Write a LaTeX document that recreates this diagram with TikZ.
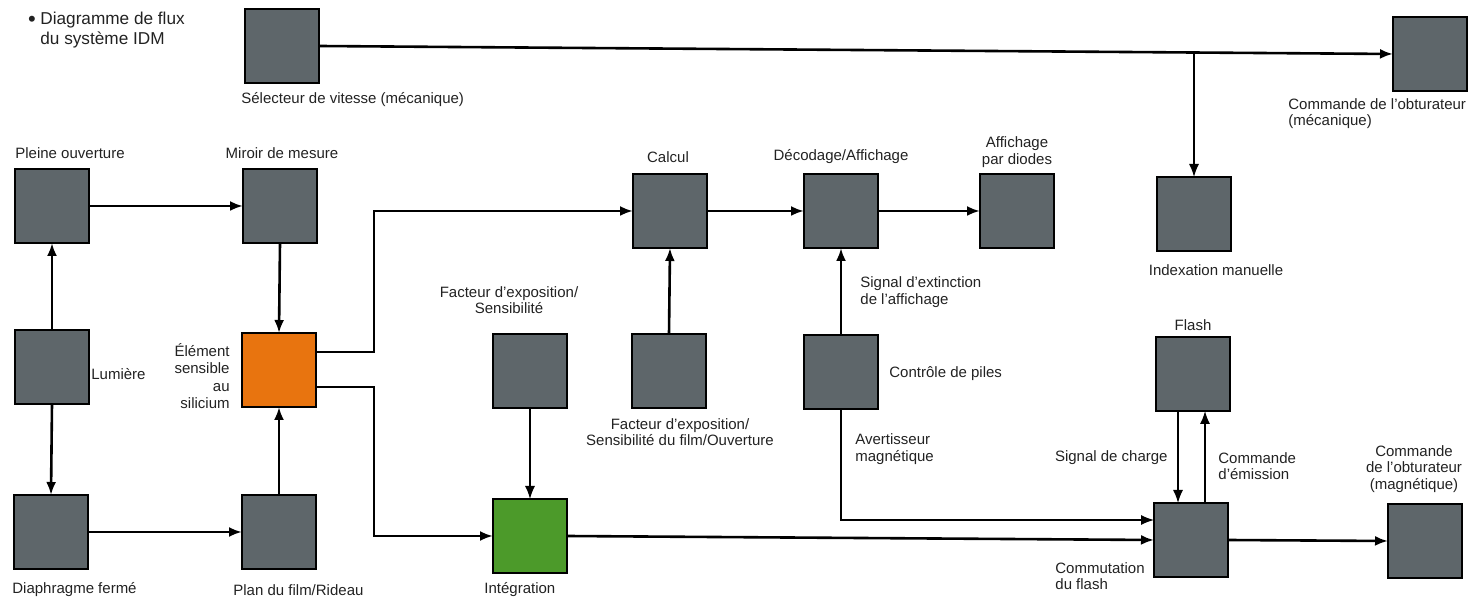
\documentclass[tikz,border=0pt]{standalone}
\usepackage{fontspec}
\setmainfont{Liberation Sans}
\usetikzlibrary{arrows.meta,calc}
\definecolor{boxgray}{HTML}{5E666A}
\definecolor{boxorange}{HTML}{E8740F}
\definecolor{boxgreen}{HTML}{4C9A2A}
\definecolor{txt}{HTML}{222222}
\begin{document}
\begin{tikzpicture}[x=0.5pt,y=-0.5pt,
  blk/.style={draw=black, line width=0.8pt, fill=boxgray, minimum size=37pt, inner sep=0pt, outer sep=0pt},
  lbl/.style={font=\fontsize{7.5}{8.2}\selectfont, text=txt, inner sep=0pt, align=center},
  conn/.style={line width=1.3pt, -{Latex[length=6.5pt,width=5pt]}},
  thinconn/.style={line width=0.7pt, -{Latex[length=6.5pt,width=5pt]}},
]
\useasboundingbox (0,0) rectangle (1472,597);

% boxes
\node[blk] (sel) at (282,46) {};
\node[blk] (cmdm) at (1430,54) {};
\node[blk] (pleine) at (52,206) {};
\node[blk] (miroir) at (280,206) {};
\node[blk] (calcul) at (670,211) {};
\node[blk] (decod) at (841,211) {};
\node[blk] (diodes) at (1017,211) {};
\node[blk] (index) at (1194,214) {};
\node[blk] (lum) at (52,367) {};
\node[blk,fill=boxorange] (elem) at (279,370) {};
\node[blk] (fexp) at (530,371) {};
\node[blk] (ffilm) at (669,371) {};
\node[blk] (piles) at (841,372) {};
\node[blk] (flash) at (1193,374) {};
\node[blk] (diaph) at (51,532) {};
\node[blk] (plan) at (279,532) {};
\node[blk,fill=boxgreen] (integ) at (530,536) {};
\node[blk] (comm) at (1191,540) {};
\node[blk] (cmdmag) at (1425,541) {};

% connectors
\draw[conn] (sel.east) -- (cmdm.west);
\coordinate (br) at (1194,52.5);
\draw[thinconn] (br) -- (index.north);
\draw[conn] (pleine.east) -- (miroir.west);
\draw[conn] (lum.north) -- (pleine.south);
\draw[conn] (lum.south) -- (diaph.north);
\draw[conn] (miroir.south) -- (elem.north);
\draw[conn] (plan.north) -- (elem.south);
\draw[conn] (diaph.east) -- (plan.west);
\draw[conn] ([yshift=9pt]elem.east) -- ++(58,0) |- (calcul.west);
\draw[conn] ([yshift=-8.5pt]elem.east) -- ++(58,0) |- (integ.west);
\draw[conn] (calcul.east) -- (decod.west);
\draw[conn] (decod.east) -- (diodes.west);
\draw[conn] (ffilm.north) -- (calcul.south);
\draw[thinconn] (fexp.south) -- (integ.north);
\draw[conn] (piles.north) -- (decod.south);
\draw[thinconn] (piles.south) |- ([yshift=10pt]comm.west);
\draw[conn] (integ.east) -- (comm.west);
\draw[conn] (comm.east) -- (cmdmag.west);
\draw[thinconn] ([xshift=-7.5pt]flash.south) -- ([xshift=-6.5pt]comm.north);
\draw[thinconn] ([xshift=7pt]comm.north) -- ([xshift=6pt]flash.south);

% labels
\node[text=txt, font=\fontsize{11}{11}\selectfont, inner sep=0pt] (bul) at (32,21) {•};
\node[anchor=west, text=txt, font=\fontsize{8.6}{9.6}\selectfont, align=left, inner sep=0pt] (title) at (40,30) {Diagramme de flux\\du système IDM};
\node[lbl, anchor=west] (lsel) at (241,100) {Sélecteur de vitesse (mécanique)};
\node[lbl, anchor=north west, align=left] (lcmdm) at (1288,98) {Commande de l'obturateur\\(mécanique)};
\node[lbl, anchor=west] (lpleine) at (15,153) {Pleine ouverture};
\node[lbl] (lmiroir) at (282,153) {Miroir de mesure};
\node[lbl] (lcalcul) at (668,157) {Calcul};
\node[lbl] (ldecod) at (841,157) {Décodage/Affichage};
\node[lbl] (ldiodes) at (1017,152) {Affichage\\par diodes};
\node[lbl] (lindex) at (1216,270) {Indexation manuelle};
\node[lbl, anchor=west] (llum) at (91,374) {Lumière};
\node[lbl, anchor=east, align=right, font=\fontsize{7.5}{8.6}\selectfont] (lelem) at (230,376) {Élément\\sensible\\au\\silicium};
\node[lbl] (lfexp) at (509,300) {Facteur d'exposition/\\Sensibilité};
\node[lbl] (lffilm) at (680,432) {Facteur d'exposition/\\Sensibilité du film/Ouverture};
\node[lbl, anchor=west, align=left] (lext) at (860,292) {Signal d'extinction\\de l'affichage};
\node[lbl, anchor=west] (lpiles) at (889,374) {Contrôle de piles};
\node[lbl, anchor=west, align=left] (laver) at (855,449) {Avertisseur\\magnétique};
\node[lbl] (lflash) at (1193,325) {Flash};
\node[lbl, anchor=east] (lcharge) at (1168,458) {Signal de charge};
\node[lbl, anchor=west, align=left] (lemis) at (1218,466) {Commande\\d'émission};
\node[lbl] (lcmdmag) at (1414,469) {Commande\\de l'obturateur\\(magnétique)};
\node[lbl, anchor=north west, align=left] (lcomm) at (1055,562) {Commutation\\du flash};
\node[lbl, anchor=west] (ldiaph) at (12,590) {Diaphragme fermé};
\node[lbl, anchor=west] (lplan) at (233,590) {Plan du film/Rideau};
\node[lbl, anchor=west] (linteg) at (484,590) {Intégration};
\end{tikzpicture}
\end{document}
